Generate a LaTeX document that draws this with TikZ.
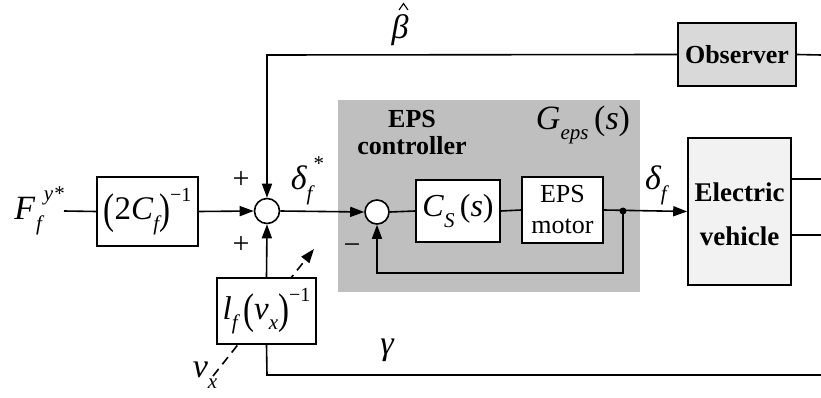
\documentclass[tikz,border=0pt]{standalone}
\usepackage{fontspec}
\setmainfont{Liberation Serif}
\usetikzlibrary{arrows.meta}
\newcommand{\msub}[1]{\raisebox{-0.32em}{\fontsize{21}{22}\selectfont\itshape #1}}
\newcommand{\msup}[1]{\raisebox{0.55em}{\fontsize{21}{22}\selectfont #1}}
\newcommand{\bigp}[1]{\raisebox{-0.12em}{\scalebox{1}[1.3]{#1}}}
\tikzset{
  wire/.style={line width=1.6pt},
  arr/.style={wire,-{Triangle[length=14pt,width=10pt]}},
  blk/.style={draw,line width=1.6pt,fill=white,inner sep=0pt},
  sumc/.style={draw,circle,line width=1.6pt,fill=white,minimum size=25pt,inner sep=0pt},
  mth/.style={font=\fontsize{34}{38}\selectfont\itshape,inner sep=0pt},
  rm/.style={font=\fontsize{26}{37}\selectfont,align=center,inner sep=0pt},
  bd/.style={font=\fontsize{27}{37}\selectfont\bfseries,align=center,inner sep=0pt},
}
\begin{document}
\begin{tikzpicture}[x=1pt,y=-1pt]
\useasboundingbox (0,0) rectangle (821,398);
% gray controller area
\fill[black!25] (338,100) rectangle (640,292);
% nodes
\node[mth,anchor=east] (F) at (64,211) {F\kern1pt\msub{f}\kern2pt\msup{y*}};
\node[blk,minimum width=101pt,minimum height=69pt] (b1) at (147.5,211.5)
  {\fontsize{33}{36}\selectfont\bigp{(}2\textit{C}\msub{f}\bigp{)}\raisebox{0.55em}{\fontsize{20}{20}\selectfont −1}};
\node[sumc] (s1) at (267,211) {};
\node[blk,fill=black!15,minimum width=118pt,minimum height=63pt] (obs) at (737,54.5)
  {\fontsize{26}{30}\selectfont\bfseries Observer};
\coordinate (tl) at (267,55);
\coordinate (tr) at (821,55);
\node[mth] (beta) at (400,30) {β};
\draw[line width=1.1pt] (399,10) -- (403.5,3.5) -- (408,10);
\node[font=\fontsize{30}{34}\selectfont,inner sep=0pt] (p1) at (241,180) {+};
\node[font=\fontsize{30}{34}\selectfont,inner sep=0pt] (p2) at (241,245) {+};
% dashed v_x arrow (behind box)
\coordinate (dv1) at (213,376);
\coordinate (dv2) at (314,249);
\draw[wire,dash pattern=on 9pt off 6pt,-{Triangle[length=14pt,width=10pt]}] (dv1) -- (dv2);
\node[blk,minimum width=99pt,minimum height=66pt] (b2) at (266.5,311)
  {\fontsize{33}{36}\selectfont\textit{l}\msub{f}\,\bigp{(}\textit{v}\msub{x}\bigp{)}\raisebox{0.55em}{\fontsize{20}{20}\selectfont −1}};
\node[mth] (vx) at (205,375) {v\msub{x}};
\coordinate (gb) at (267,375);
\coordinate (gr) at (821,375);
\node[mth] (gam) at (387,350) {γ};
\node[mth] (dfs) at (307,181) {δ\msub{f}\msup{*}};
\node[sumc,minimum size=24pt] (s2) at (377,212) {};
\node[blk,minimum width=84pt,minimum height=62pt] (cs) at (458,211)
  {\fontsize{32}{34}\selectfont\textit{C}\msub{S}\,(\textit{s})};
\node[blk,minimum width=81pt,minimum height=66pt,rm] (mot) at (562.5,210) {EPS\\[-6pt]motor};
\node[circle,fill,inner sep=0pt,minimum size=7pt] (dot) at (623,211) {};
\node[blk,fill=black!5,minimum width=103pt,minimum height=147pt] (ev) at (739.5,211.5) {};
\node[bd] (evt1) at (739.5,192) {Electric};
\node[bd] (evt2) at (739.5,236) {vehicle};
\node[font=\fontsize{26}{27}\selectfont\bfseries,align=center,inner sep=0pt] (epsc) at (412,133) {EPS\\controller};
\node[font=\fontsize{34}{38}\selectfont\itshape,inner sep=0pt] (geps) at (583,125)
  {G\raisebox{-0.3em}{\fontsize{21}{22}\selectfont eps}\,\upshape(\textit{s})};
\node[font=\fontsize{30}{34}\selectfont,inner sep=0pt] (minus) at (352,249) {−};
\node[mth] (df) at (656,185) {δ\msub{f}};
\coordinate (fb1) at (623,273);
\coordinate (fb2) at (377,273);
\coordinate (o1) at (821,179);
\coordinate (o2) at (821,235);
\coordinate (e1) at (791,179);
\coordinate (e2) at (791,235);
% connectors
\draw[wire] (F.east) -- (b1.west);
\draw[arr] (b1.east) -- (s1.west);
\draw[wire] (obs.east) -- (tr);
\draw[arr] (obs.west) -- (tl) -- (s1.north);
\draw[arr] (b2.north) -- (s1.south);
\draw[wire] (b2.south) -- (gb) -- (gr);
\draw[arr] (s1.east) -- (s2.west);
\draw[wire] (s2.east) -- (cs.west);
\draw[wire] (cs.east) -- (mot.west);
\draw[arr] (mot.east) -- (ev.west);
\draw[arr] (dot.center) -- (fb1) -- (fb2) -- (s2.south);
\draw[wire] (e1) -- (o1);
\draw[wire] (e2) -- (o2);
\end{tikzpicture}
\end{document}
